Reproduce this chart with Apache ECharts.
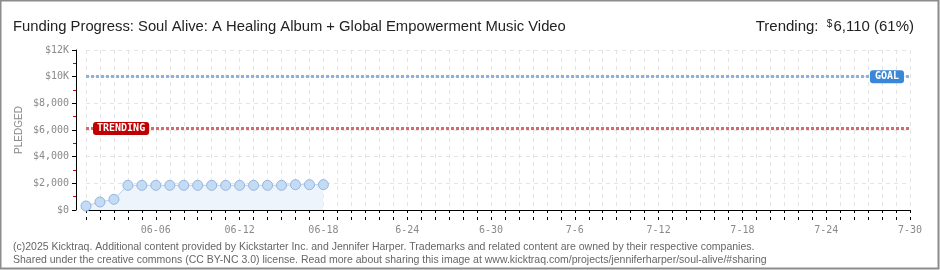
<!DOCTYPE html>
<html>
<head>
<meta charset="utf-8">
<title>Funding Progress</title>
<script src="https://cdn.jsdelivr.net/npm/echarts@6/dist/echarts.min.js"></script>
<style>
  html, body { margin: 0; padding: 0; background: #fff; }
  #chart { width: 940px; height: 270px; }
</style>
</head>
<body>
<div id="chart"></div>
<script>
// Campaign window: one category per day, 06-01 through 07-30
const startDay = new Date(2025, 5, 1);
const dayCount = 60;
const days = [];
for (let i = 0; i < dayCount; i++) {
  const d = new Date(startDay.getTime() + i * 86400000);
  days.push((d.getMonth() + 1) + '-' + d.getDate());
}

// Labels printed under every sixth day, starting at the sixth
const dayTickLabels = ['06-06', '06-12', '06-18', '6-24', '6-30', '7-6', '7-12', '7-18', '7-24', '7-30'];

// Cumulative pledges per day (USD)
const pledged = [300, 600, 800, 1850, 1850, 1850, 1850, 1850, 1850, 1850, 1850, 1850, 1850, 1850, 1850, 1900, 1900, 1900];

const goalAmount = 10000;
const trendingAmount = 6110;
const trendingPercent = 61;

// Y-axis tick labels
const yTickLabels = { 0: '$0', 2000: '$2,000', 4000: '$4,000', 6000: '$6,000', 8000: '$8,000', 10000: '$10K', 12000: '$12K' };

const pixelFont = '"DejaVu Sans Mono", monospace';
const headFont = '"Liberation Sans Narrow", "Liberation Sans", sans-serif';

const chart = echarts.init(document.getElementById('chart'), null, { renderer: 'canvas' });

const xAxisBase = {
  type: 'category',
  data: days,
  boundaryGap: false,
  position: 'bottom',
  offset: 10
};

chart.setOption({
  animation: false,
  backgroundColor: '#fff',
  grid: { left: 86, right: 30, top: 50, bottom: 60 },
  title: [
    {
      text: 'Funding Progress: Soul Alive: A Healing Album + Global Empowerment Music Video',
      left: 8, top: 14,
      textStyle: { fontFamily: headFont, fontSize: 14.8, fontWeight: 'normal', color: '#222' }
    },
    {
      text: '{l|Trending:  }{s|$}{v|' + trendingAmount.toLocaleString('en-US') + ' (' + trendingPercent + '%)}',
      right: 21, top: 14,
      textStyle: {
        fontWeight: 'normal',
        rich: {
          l: { fontFamily: headFont, fontSize: 15, fontWeight: 'normal', color: '#222' },
          s: { fontFamily: headFont, fontSize: 10, fontWeight: 'normal', color: '#222', verticalAlign: 'top', padding: [0, 1, 6, 0] },
          v: { fontFamily: headFont, fontSize: 15, fontWeight: 'normal', color: '#222' }
        }
      }
    },
    {
      text: '(c)2025 Kicktraq. Additional content provided by Kickstarter Inc. and Jennifer Harper. Trademarks and related content are owned by their respective companies.\nShared under the creative commons (CC BY-NC 3.0) license. Read more about sharing this image at www.kicktraq.com/projects/jenniferharper/soul-alive/#sharing',
      left: 8, top: 236,
      textStyle: { fontFamily: headFont, fontSize: 10.5, fontWeight: 'normal', color: '#666', lineHeight: 13 }
    }
  ],
  xAxis: [
    Object.assign({}, xAxisBase, {
      axisLine: { show: true, lineStyle: { color: '#000', width: 1 } },
      axisTick: { show: true, inside: false, length: 3, interval: 0, lineStyle: { color: '#000' } },
      axisLabel: {
        show: true, interval: 0, margin: 5,
        fontFamily: pixelFont, fontSize: 10, color: '#8a8a8a',
        formatter: function (value, index) {
          return (index >= 5 && (index - 5) % 6 === 0) ? dayTickLabels[(index - 5) / 6] : '';
        }
      },
      splitLine: { show: true, interval: 0, lineStyle: { color: '#e4e4e4', type: [4, 4] } }
    }),
    // Second copy of the day axis carries the upper half of each tick
    Object.assign({}, xAxisBase, {
      axisLine: { show: false },
      axisTick: { show: true, inside: true, length: 3, interval: 0, lineStyle: { color: '#000' } },
      axisLabel: { show: false },
      splitLine: { show: false }
    })
  ],
  yAxis: {
    type: 'value',
    min: 0, max: 12000, interval: 2000,
    offset: 10,
    name: 'PLEDGED',
    nameLocation: 'middle',
    nameGap: 52,
    nameMoveOverlap: false,
    nameTextStyle: { fontFamily: '"Liberation Sans", sans-serif', fontSize: 10, color: '#8a8a8a' },
    axisLine: { show: true, lineStyle: { color: '#000', width: 1 } },
    axisTick: { show: true, length: 4, lineStyle: { color: '#000' } },
    minorTick: { show: true, splitNumber: 2, length: 3, lineStyle: { color: '#d40000' } },
    axisLabel: {
      margin: 7, fontFamily: pixelFont, fontSize: 10, color: '#8a8a8a',
      formatter: function (v) { return yTickLabels[v] || ''; }
    },
    splitLine: { show: true, lineStyle: { color: '#e4e4e4', type: [4, 4] } }
  },
  series: [
    {
      type: 'line',
      data: pledged,
      symbol: 'circle',
      symbolSize: 10,
      lineStyle: { color: '#b7d2f0', width: 1 },
      itemStyle: { color: '#c4dbf5', borderColor: '#95b5de', borderWidth: 1 },
      areaStyle: { color: '#edf4fc', opacity: 1 },
      z: 3,
      markLine: {
        silent: true,
        symbol: ['none', 'none'],
        data: [
          {
            yAxis: goalAmount,
            lineStyle: { color: '#8db2de', width: 3, type: [3, 2] },
            label: {
              show: true, position: 'insideEnd', distance: [6, 0],
              formatter: 'GOAL',
              fontFamily: pixelFont, fontSize: 10, fontWeight: 'bold', color: '#fff',
              backgroundColor: '#3a87d8', borderRadius: 3, padding: [2, 5, 1, 5]
            }
          },
          {
            yAxis: trendingAmount,
            lineStyle: { color: '#d36b6e', width: 3, type: [3, 2] },
            label: {
              show: true, position: 'insideStart', distance: [7, 0],
              formatter: 'TRENDING',
              fontFamily: pixelFont, fontSize: 10, fontWeight: 'bold', color: '#fff',
              backgroundColor: '#c00000', borderRadius: 3, padding: [2, 4, 1, 4]
            }
          }
        ]
      }
    }
  ],
  graphic: [
    {
      type: 'rect',
      shape: { x: 0.5, y: 0.5, width: 938, height: 268 },
      style: { fill: 'none', stroke: '#8c8c8c', lineWidth: 2 },
      silent: true
    }
  ]
});
</script>
</body>
</html>
